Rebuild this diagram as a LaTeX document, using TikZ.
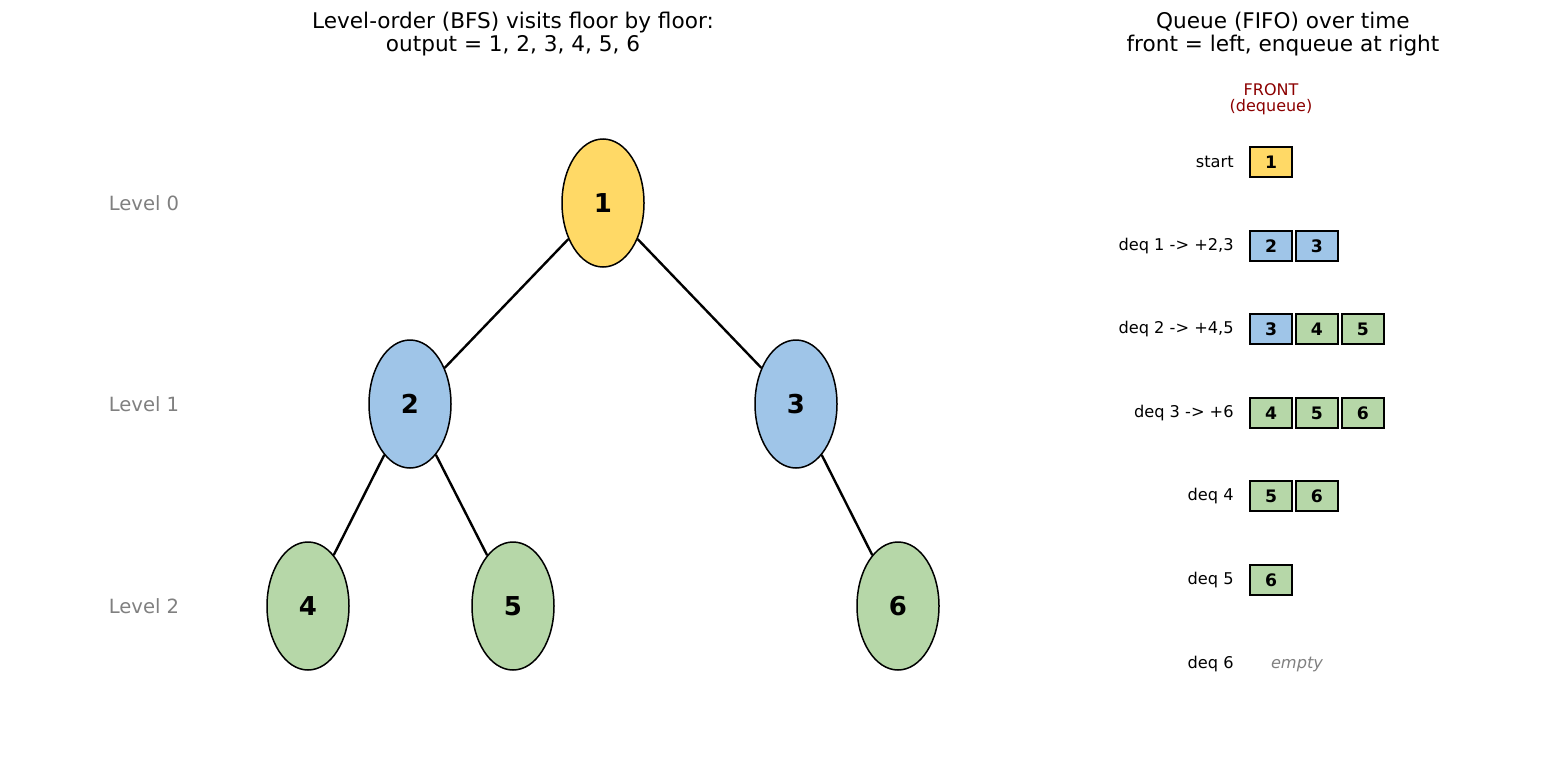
\documentclass[tikz,border=0pt]{standalone}
\usepackage{fontspec}
\setmainfont{DejaVu Sans}
\usepackage{xcolor}
\usetikzlibrary{shapes,positioning}

\definecolor{rootfill}{HTML}{FFD966}
\definecolor{midfill}{HTML}{9FC5E8}
\definecolor{leaffill}{HTML}{B6D7A8}
\definecolor{frontred}{HTML}{8B0000}

\begin{document}
\begin{tikzpicture}[
    x=0.5pt, y=-0.5pt,
    tnode/.style={ellipse, draw, line width=0.75pt, minimum width=41pt, minimum height=64pt, inner sep=0pt, font=\fontsize{13}{15}\selectfont\bfseries},
    qbox/.style={rectangle, draw, line width=0.75pt, minimum width=21pt, minimum height=15pt, inner sep=0pt, font=\fontsize{8.6}{10}\selectfont\bfseries},
    qlabel/.style={anchor=east, inner sep=0pt, font=\fontsize{8.1}{9}\selectfont},
    levellabel/.style={text=gray, font=\fontsize{9.8}{12}\selectfont},
    title/.style={align=center, font=\fontsize{10.8}{11.5}\selectfont},
    edge/.style={line width=1.2pt},
    node distance=1.2pt
]
    \useasboundingbox (0,0) rectangle (1547,760);

    % Titles
    \node[title] (treetitle) at (513,34) {Level-order (BFS) visits floor by floor:\\output = 1, 2, 3, 4, 5, 6};
    \node[title] (queuetitle) at (1283,34) {Queue (FIFO) over time\\front = left, enqueue at right};

    % Levels
    \node[levellabel] (lev0) at (144,203) {Level 0};
    \node[levellabel] (lev1) at (144,404) {Level 1};
    \node[levellabel] (lev2) at (144,606) {Level 2};

    % Tree
    \node[tnode, fill=rootfill] (n1) at (603,203) {1};
    \node[tnode, fill=midfill] (n2) at (410,404) {2};
    \node[tnode, fill=midfill] (n3) at (796,404) {3};
    \node[tnode, fill=leaffill] (n4) at (308,606) {4};
    \node[tnode, fill=leaffill] (n5) at (513,606) {5};
    \node[tnode, fill=leaffill] (n6) at (898,606) {6};

    \draw[edge] (n1) -- (n2);
    \draw[edge] (n1) -- (n3);
    \draw[edge] (n2) -- (n4);
    \draw[edge] (n2) -- (n5);
    \draw[edge] (n3) -- (n6);

    % Queue front
    \node[align=center, text=frontred, font=\fontsize{8}{8}\selectfont] (front) at (1271,99) {FRONT\\(dequeue)};

    % Queue states
    \node[qlabel] (lab0) at (1234,162) {start};
    \node[qbox, fill=rootfill] (q0a) at (1271,162) {1};

    \node[qlabel] (lab1) at (1234,246) {deq 1 -> +2,3};
    \node[qbox, fill=midfill] (q1a) at (1271,246) {2};
    \node[qbox, fill=midfill, right=of q1a] (q1b) {3};

    \node[qlabel] (lab2) at (1234,329) {deq 2 -> +4,5};
    \node[qbox, fill=midfill] (q2a) at (1271,329) {3};
    \node[qbox, fill=leaffill, right=of q2a] (q2b) {4};
    \node[qbox, fill=leaffill, right=of q2b] (q2c) {5};

    \node[qlabel] (lab3) at (1234,413) {deq 3 -> +6};
    \node[qbox, fill=leaffill] (q3a) at (1271,413) {4};
    \node[qbox, fill=leaffill, right=of q3a] (q3b) {5};
    \node[qbox, fill=leaffill, right=of q3b] (q3c) {6};

    \node[qlabel] (lab4) at (1234,496) {deq 4};
    \node[qbox, fill=leaffill] (q4a) at (1271,496) {5};
    \node[qbox, fill=leaffill, right=of q4a] (q4b) {6};

    \node[qlabel] (lab5) at (1234,580) {deq 5};
    \node[qbox, fill=leaffill] (q5a) at (1271,580) {6};

    \node[qlabel] (lab6) at (1234,664) {deq 6};
    \node[text=gray, font=\fontsize{8.1}{9}\selectfont\itshape] (empty) at (1297,664) {empty};
\end{tikzpicture}
\end{document}
